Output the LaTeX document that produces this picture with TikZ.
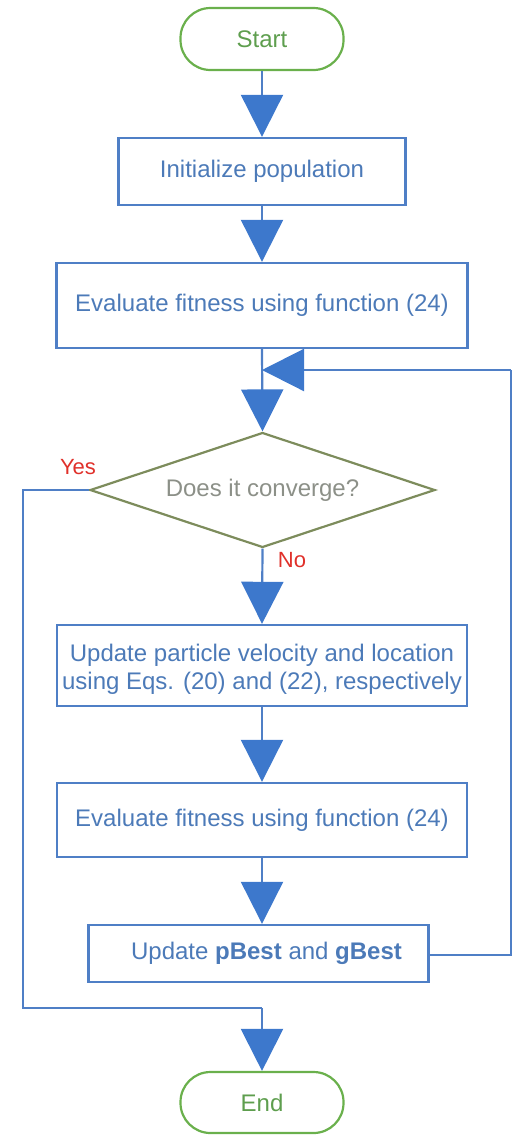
\documentclass[tikz,border=0pt]{standalone}
\usepackage{fontspec}
\setmainfont{Liberation Sans}
\usetikzlibrary{arrows.meta,shapes.geometric}
\definecolor{boxblue}{HTML}{4F7FC6}
\definecolor{tipblue}{HTML}{3D78CC}
\definecolor{txtblue}{HTML}{4C7AB8}
\definecolor{termgreen}{HTML}{6AB04C}
\definecolor{termtxt}{HTML}{5E9E4E}
\definecolor{decline}{HTML}{7D8C5C}
\definecolor{dectxt}{HTML}{8C9088}
\definecolor{yesred}{HTML}{E0302A}
\tikzset{
  proc/.style={draw=boxblue, line width=2.4pt, rectangle, inner sep=0pt, text=txtblue, align=center, font=\fontsize{24}{28}\selectfont},
  proctext/.style={inner sep=0pt, text=txtblue, align=center, font=\fontsize{24}{28}\selectfont},
  term/.style={draw=termgreen, line width=2.2pt, rectangle, rounded corners=30pt, inner sep=0pt, text=termtxt, font=\fontsize{24}{28}\selectfont},
  conn/.style={draw=boxblue, line width=2.2pt},
  arr/.style={conn, -{Triangle[width=42pt,length=42pt,color=tipblue]}},
  lbl/.style={text=yesred, font=\fontsize{22}{26}\selectfont, inner sep=0pt}
}
\begin{document}
\begin{tikzpicture}[x=1pt,y=-1pt]
\useasboundingbox (0,0) rectangle (512,1136);
\node[term, minimum width=163pt, minimum height=62pt] (start) at (262,39) {Start};
\node[proc, minimum width=287pt, minimum height=67pt] (init) at (262,171.5) {Initialize population};
\node[proc, minimum width=411pt, minimum height=85pt] (eval1) at (262,305.5) {Evaluate fitness using function (24)};
\node[diamond, draw=decline, line width=2.2pt, inner sep=0pt, aspect=3, minimum width=345pt, minimum height=115pt] (dec) at (262.5,490) {};
\node[text=dectxt, font=\fontsize{24}{28}\selectfont, inner sep=0pt] (dectext) at (dec.center) {Does it converge?};
\node[proc, minimum width=410pt, minimum height=81pt] (upd) at (262,665.5) {};
\node[proctext] (updtext) at ([yshift=-4pt]upd.center) {Update particle velocity and location\\using Eqs. (20) and (22), respectively};
\node[proc, minimum width=410pt, minimum height=74pt] (eval2) at (262,820) {Evaluate fitness using function (24)};
\node[proc, minimum width=340pt, minimum height=57pt] (pb) at (258.5,953.5) {\hspace*{16pt}Update \textbf{pBest} and \textbf{gBest}};
\node[term, minimum width=163pt, minimum height=61pt] (end) at (262,1102.5) {End};
\coordinate (join) at (262,370);
\coordinate (yesturn) at (23,490);
\coordinate (yesdown) at (23,1008);
\coordinate (fbright) at (511,955);
\coordinate (fbtop) at (511,370);
\node[lbl] (yes) at (78,467) {Yes};
\node[lbl] (no) at (292,560) {No};
\draw[arr] (start.south) -- (init.north);
\draw[arr] (init.south) -- (eval1.north);
\draw[arr] (eval1.south) -- (dec.north);
\draw[arr] (dec.south) -- (upd.north);
\draw[arr] (upd.south) -- (eval2.north);
\draw[arr] (eval2.south) -- (eval2.south |- pb.north);
\draw[conn] (dec.west) -- (yesturn) -- (yesdown) -- (yesdown -| end.north);
\draw[arr] (yesdown -| end.north) -- (end.north);
\draw[conn] (pb.east |- fbright) -- (fbright) -- (fbtop);
\draw[arr] (fbtop) -- (join);
\end{tikzpicture}
\end{document}
